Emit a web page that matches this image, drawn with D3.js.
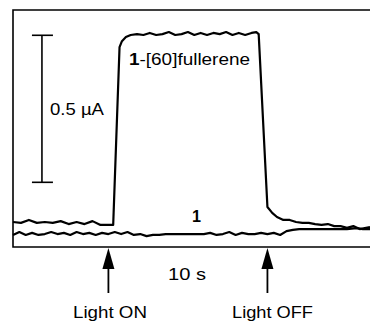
<!DOCTYPE html>
<html lang="en">

<head>
  <meta charset="UTF-8">
  <title>Photocurrent</title>
  <script src="https://cdn.jsdelivr.net/npm/d3@7/dist/d3.min.js"></script>
  <style>
    body { margin: 0; background: #fff; }
    text { font-family: "Liberation Sans", Arial, sans-serif; fill: #000; }
  </style>
</head>

<body>
  <svg></svg>

  <script>
    const width = 370;
    const height = 323;

    // time (s) and current (uA)
    const fullereneT = [0, 0.5, 1, 1.5, 2, 2.5, 3, 3.5, 4, 4.5, 5, 5.5, 6, 6.3, 6.7, 6.85, 7.1, 7.4,
      7.8, 8.2, 8.6, 9, 9.4, 9.8, 10.2, 10.6, 11, 11.4, 11.8, 12.2, 12.6, 13, 13.4, 13.8, 14.2, 14.6, 15, 15.3, 15.45,
      16, 16.3, 16.6, 17, 17.4, 17.8, 18.2, 18.6, 19, 19.4, 19.8, 20.2, 20.6, 21, 21.4, 21.8, 22.45];
    const fullereneI = [0.085, 0.082, 0.092, 0.082, 0.085, 0.082, 0.088, 0.078, 0.085, 0.078, 0.088, 0.075, 0.075, 0.075, 0.680, 0.700, 0.714, 0.721,
      0.724, 0.721, 0.728, 0.721, 0.724, 0.731, 0.721, 0.724, 0.731, 0.721, 0.728, 0.721, 0.728, 0.724, 0.731, 0.721, 0.728, 0.721, 0.728, 0.731, 0.724,
      0.136, 0.116, 0.102, 0.092, 0.092, 0.085, 0.082, 0.082, 0.078, 0.075, 0.078, 0.071, 0.071, 0.065, 0.071, 0.061, 0.068];

    const plainT = [0, 0.4, 0.8, 1.2, 1.6, 2, 2.4, 2.8, 3.2, 3.6, 4, 4.4, 4.8, 5.2, 5.6, 6, 6.4, 6.8, 7.2, 7.6, 8, 8.4, 8.8, 9.2, 9.6,
      10, 12, 12.4, 12.8, 13.2, 13.6, 14, 14.4, 14.8, 15.2, 15.6, 16, 16.4, 16.8, 17.2, 17.6, 18, 19, 20, 21, 21.6, 22, 22.45];
    const plainI = [0.041, 0.051, 0.041, 0.048, 0.041, 0.044, 0.051, 0.044, 0.048, 0.041, 0.051, 0.044, 0.048, 0.041, 0.048, 0.044, 0.051, 0.044, 0.051, 0.041, 0.044, 0.037, 0.041, 0.041, 0.044,
      0.044, 0.044, 0.048, 0.041, 0.044, 0.051, 0.041, 0.048, 0.044, 0.044, 0.048, 0.044, 0.048, 0.041, 0.054, 0.058, 0.061, 0.061, 0.061, 0.061, 0.064, 0.061, 0.061];

    const lightOn = 6;    // s
    const lightOff = 16;  // s
    const scaleBar = [0.22, 0.72]; // 0.5 uA

    const x = d3.scaleLinear().domain([0, 22.45]).range([13, 370]);
    const y = d3.scaleLinear().domain([0, 0.806]).range([247, 10]);

    const svg = d3.select("svg").attr("width", width).attr("height", height);

    // frame, open on the right
    svg.append("path")
      .attr("d", `M${width},${y(0.806)}H${x(0)}V${y(0)}H${width}`)
      .attr("fill", "none").attr("stroke", "#000").attr("stroke-width", 1.6);

    const line = d3.line().x(d => x(d[0])).y(d => y(d[1]));

    svg.append("path")
      .datum(d3.zip(fullereneT, fullereneI))
      .attr("d", line)
      .attr("fill", "none").attr("stroke", "#000").attr("stroke-width", 2.2)
      .attr("stroke-linejoin", "round");

    svg.append("path")
      .datum(d3.zip(plainT, plainI))
      .attr("d", line)
      .attr("fill", "none").attr("stroke", "#000").attr("stroke-width", 2.2)
      .attr("stroke-linejoin", "round");

    // scale bar
    const sx = x(1.82);
    const bar = svg.append("g").attr("stroke", "#000").attr("stroke-width", 1.6);
    bar.append("line").attr("x1", sx).attr("x2", sx).attr("y1", y(scaleBar[0])).attr("y2", y(scaleBar[1]));
    scaleBar.forEach(v => {
      bar.append("line").attr("x1", sx - 10).attr("x2", sx + 11).attr("y1", y(v)).attr("y2", y(v));
    });

    // arrows
    [lightOn, lightOff].forEach(t => {
      const ax = x(t);
      svg.append("line").attr("x1", ax).attr("x2", ax).attr("y1", 262).attr("y2", 293)
        .attr("stroke", "#000").attr("stroke-width", 1.8);
      svg.append("path").attr("d", `M${ax},248L${ax - 6},269L${ax + 6},269Z`).attr("fill", "#000");
    });

    function label(txt, tx, ty, len) {
      return svg.append("text").attr("x", tx).attr("y", ty).style("font-size", "17px")
        .attr("textLength", len).attr("lengthAdjust", "spacingAndGlyphs").text(txt);
    }

    label("0.5 \u00b5A", 50, 115, 54);
    label("10 s", 168, 280, 38);
    label("Light ON", 73, 318, 74);
    label("Light OFF", 232, 318, 81);

    const ful = svg.append("text").attr("x", 129).attr("y", 65).style("font-size", "16px")
      .attr("textLength", 121).attr("lengthAdjust", "spacingAndGlyphs");
    ful.append("tspan").style("font-weight", "bold").text("1");
    ful.append("tspan").text("-[60]fullerene");

    svg.append("text").attr("x", 192).attr("y", 222).style("font-size", "17px")
      .style("font-weight", "bold").attr("textLength", 9).attr("lengthAdjust", "spacingAndGlyphs").text("1");
  </script>
</body>

</html>
